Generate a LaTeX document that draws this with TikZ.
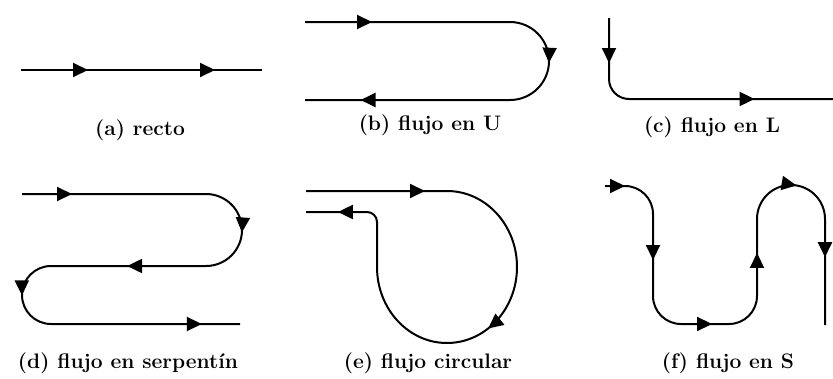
\documentclass[tikz,border=0pt]{standalone}
\usepackage{fontspec}
\usepackage{tikz}
\usetikzlibrary{arrows.meta,decorations.markings}
\tikzset{
  ln/.style={line width=2pt, black},
  fl/.style={postaction={decorate,decoration={markings,
             mark=at position #1pt with {\arrow{Triangle[length=15pt,width=14pt]}}}}},
  lbl/.style={font=\fontsize{21}{24}\selectfont\bfseries, inner sep=0pt},
}
\begin{document}
\begin{tikzpicture}[x=1pt,y=-1pt]
\useasboundingbox (0,0) rectangle (833,378);
% (a)
\draw[ln, fl=67, fl=194] (21,70) -- (262,70);
% (b)
\draw[ln, fl=67, fl=268, fl=477] (305,22) -- (510,22)
  arc[start angle=-90, end angle=90, radius=39] -- (305,100);
% (c)
\draw[ln, fl=45, fl=218] (609,18) -- (609,79)
  arc[start angle=180, end angle=90, radius=20] -- (833,99);
% (d)
\draw[ln, fl=50, fl=243, fl=376, fl=498, fl=694] (22,194) -- (206,194)
  arc[start angle=-90, end angle=90, radius=36] -- (51,266)
  arc[start angle=270, end angle=90, radius=29] -- (240,324);
% (e)
\draw[ln, fl=119, fl=326, fl=575] (306,191) -- (447,191)
  arc[start angle=-90, end angle=180, x radius=70, y radius=76] -- (377,222)
  arc[start angle=0, end angle=-90, radius=10] -- (306,212);
% (f)
\draw[ln, fl=20, fl=110, fl=221, fl=325, fl=418, fl=504] (605,186) -- (625,186)
  arc[start angle=-90, end angle=0, radius=28] -- (653,296)
  arc[start angle=180, end angle=90, radius=28] -- (729,324)
  arc[start angle=90, end angle=0, radius=28] -- (757,219)
  arc[start angle=180, end angle=360, radius=34] -- (825,325);
\node[lbl] (la) at (140,130) {(a) recto};
\node[lbl] (lb) at (430,125) {(b) flujo en U};
\node[lbl] (lc) at (712,127) {(c) flujo en L};
\node[lbl] (ld) at (128,363) {(d) flujo en serpentín};
\node[lbl] (le) at (428,363) {(e) flujo circular};
\node[lbl] (lf) at (728,363) {(f) flujo en S};
\end{tikzpicture}
\end{document}
